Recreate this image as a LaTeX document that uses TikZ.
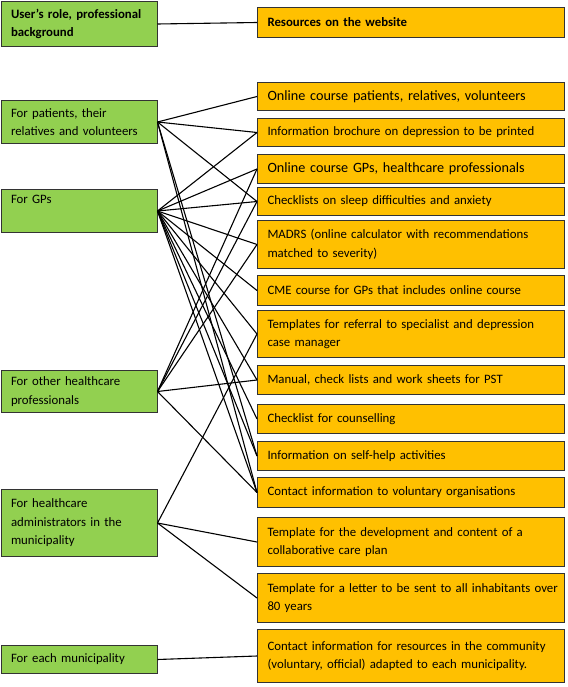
\documentclass[tikz,border=0pt]{standalone}
\usepackage{fontspec}
\setmainfont{Carlito}
\definecolor{gfill}{HTML}{92D050}
\definecolor{ofill}{HTML}{FFC000}
\begin{document}
\begin{tikzpicture}[x=1pt,y=-1pt,
  box/.style={draw=black!80, line width=1pt, anchor=north west, align=left,
    inner xsep=10pt, inner ysep=1pt, font=\fontsize{12.8}{18.5}\selectfont},
  gbox/.style={box, fill=gfill, text width=136pt},
  obox/.style={box, fill=ofill, text width=287pt},
  bigtext/.style={font=\fontsize{14.2}{18.5}\selectfont},
  link/.style={line width=1.1pt, black}]
\useasboundingbox (0,0) rectangle (567,687);
% left boxes
\node[gbox, minimum height=45pt] (g0) at (0.5,1) {\textbf{User’s role, professional}\\\textbf{background}};
\node[gbox, minimum height=43pt] (g1) at (0.5,100) {For patients, their\\relatives and volunteers};
\node[gbox, minimum height=43pt] (g2) at (0.5,189) {For GPs\\\strut};
\node[gbox, minimum height=42pt] (g3) at (0.5,370) {For other healthcare\\professionals};
\node[gbox, minimum height=67pt] (g4) at (0.5,489) {For healthcare\\administrators in the\\municipality};
\node[gbox, minimum height=28pt] (g5) at (0.5,645) {For each municipality};
% right boxes
\node[obox, minimum height=30pt] (r0) at (257,7) {\textbf{Resources on the website}};
\node[obox, bigtext, minimum height=28pt] (r1) at (257,82) {Online course patients, relatives, volunteers};
\node[obox, minimum height=28pt] (r2) at (257,118) {Information brochure on depression to be printed};
\node[obox, bigtext, minimum height=29pt] (r3) at (257,154) {Online course GPs, healthcare professionals};
\node[obox, minimum height=28pt] (r4) at (257,187) {Checklists on sleep difficulties and anxiety};
\node[obox, minimum height=48pt] (r5) at (257,220) {MADRS (online calculator with recommendations\\matched to severity)};
\node[obox, minimum height=30pt] (r6) at (257,275) {CME course for GPs that includes online course};
\node[obox, minimum height=47pt] (r7) at (257,310) {Templates for referral to specialist and depression\\case manager};
\node[obox, minimum height=29pt] (r8) at (257,365) {Manual, check lists and work sheets for PST};
\node[obox, minimum height=29pt] (r9) at (257,404) {Checklist for counselling};
\node[obox, minimum height=29pt] (r10) at (257,441) {Information on self-help activities};
\node[obox, minimum height=30pt] (r11) at (257,477) {Contact information to voluntary organisations};
\node[obox, minimum height=49pt] (r12) at (257,517) {Template for the development and content of a\\collaborative care plan};
\node[obox, minimum height=49pt] (r13) at (257,573) {\mbox{Template for a letter to be sent to all inhabitants over}\\80 years};
\node[obox, minimum height=53pt] (r14) at (257,629) {Contact information for resources in the community\\(voluntary, official) adapted to each municipality.};
% connectors
\draw[link] (g0.east) -- (r0.west);
\foreach \t in {r1,r2,r4,r10,r11} \draw[link] (g1.east) -- (\t.west);
\foreach \t in {r2,r3,r4,r5,r6,r7,r8,r9,r10,r11} \draw[link] (g2.east) -- (\t.west);
\foreach \t in {r3,r4,r5,r8,r11} \draw[link] (g3.east) -- (\t.west);
\foreach \t in {r7,r12,r13} \draw[link] (g4.east) -- (\t.west);
\draw[link] (g5.east) -- (r14.west);
\end{tikzpicture}
\end{document}
